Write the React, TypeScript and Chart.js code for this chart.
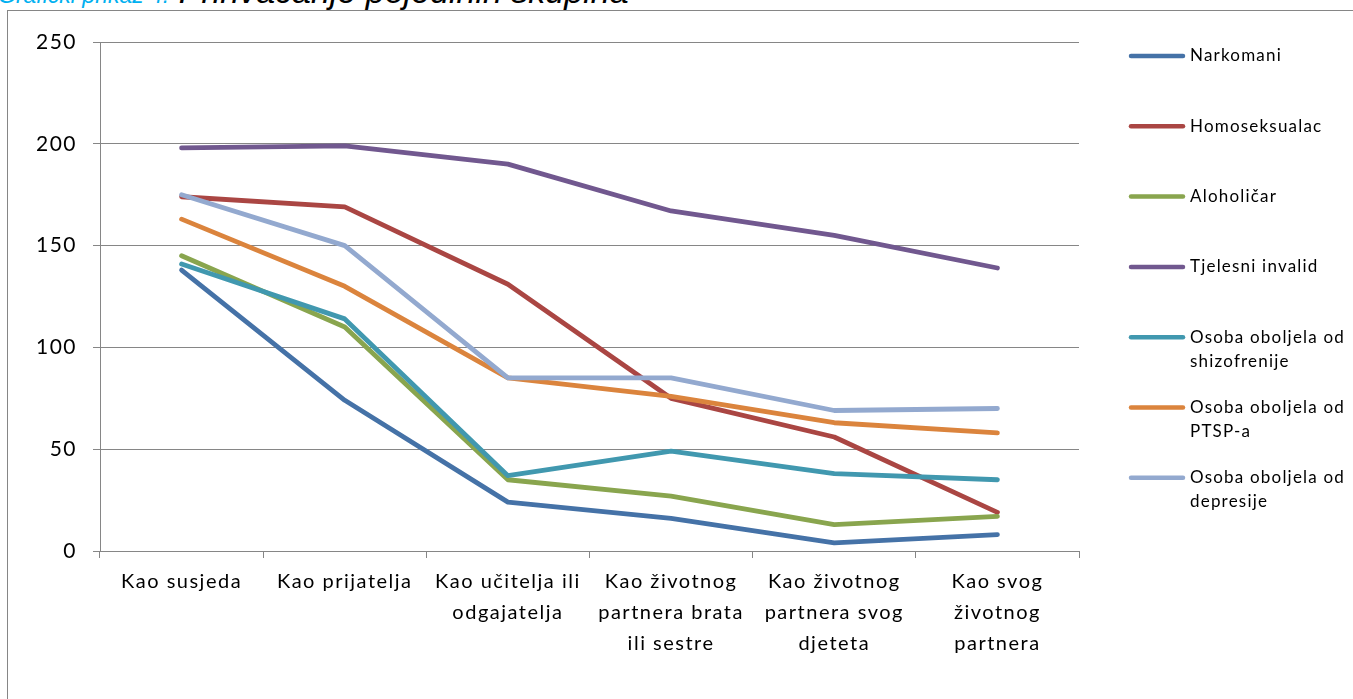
import React, { useEffect, useRef } from "react";
import { Chart, registerables } from "chart.js";

Chart.register(...registerables);

// ---------- data ----------
const categories: string[][] = [
  ["Kao susjeda"],
  ["Kao prijatelja"],
  ["Kao učitelja ili", "odgajatelja"],
  ["Kao životnog", "partnera brata", "ili sestre"],
  ["Kao životnog", "partnera svog", "djeteta"],
  ["Kao svog", "životnog", "partnera"],
];

const seriesNames = [
  "Narkomani",
  "Homoseksualac",
  "Aloholičar",
  "Tjelesni invalid",
  "Osoba oboljela od shizofrenije",
  "Osoba oboljela od PTSP-a",
  "Osoba oboljela od depresije",
];

const narkomani = [138, 74, 24, 16, 4, 8];
const homoseksualac = [174, 169, 131, 75, 56, 19];
const aloholicar = [145, 110, 35, 27, 13, 17];
const tjelesniInvalid = [198, 199, 190, 167, 155, 139];
const shizofrenija = [141, 114, 37, 49, 38, 35];
const ptsp = [163, 130, 85, 76, 63, 58];
const depresija = [175, 150, 85, 85, 69, 70];

const yMin = 0;
const yMax = 250;
const yStep = 50;

const seriesValues = [narkomani, homoseksualac, aloholicar, tjelesniInvalid, shizofrenija, ptsp, depresija];
const seriesColors = ["#4572A7", "#AA4643", "#89A54E", "#71588F", "#4198AF", "#DB843D", "#93A9CF"];

const titleNumber = "Grafički prikaz 4:";
const titleText = " Prihvaćanje pojedinih skupina";

// ---------- plugins ----------
const spacingPlugin = {
  id: "spacing",
  beforeDraw(chart: any) {
    (chart.ctx as any).letterSpacing = "1.5px";
  },
};

const legendPlugin = {
  id: "customLegend",
  afterDraw(chart: any) {
    const ctx = chart.ctx as CanvasRenderingContext2D;
    ctx.save();
    (ctx as any).letterSpacing = "1.2px";
    ctx.font = "17px Lato";
    ctx.textBaseline = "middle";
    ctx.textAlign = "left";
    const startY = 56;
    const step = 70.3;
    const lineX0 = 1131;
    const lineX1 = 1183;
    const textX = 1190;
    const maxW = 168;
    seriesNames.forEach((name, i) => {
      const y = startY + i * step;
      ctx.strokeStyle = seriesColors[i];
      ctx.lineWidth = 4.5;
      ctx.lineCap = "round";
      ctx.beginPath();
      ctx.moveTo(lineX0, y);
      ctx.lineTo(lineX1, y);
      ctx.stroke();
      const words = name.split(" ");
      const lines: string[] = [];
      let cur = "";
      words.forEach((w) => {
        const test = cur ? cur + " " + w : w;
        if (ctx.measureText(test).width > maxW && cur) {
          lines.push(cur);
          cur = w;
        } else cur = test;
      });
      if (cur) lines.push(cur);
      ctx.fillStyle = "#000";
      lines.forEach((l, j) => ctx.fillText(l, textX, y + j * 24));
    });
    ctx.restore();
  },
};

export default function App() {
  const ref = useRef<HTMLCanvasElement | null>(null);

  useEffect(() => {
    if (!ref.current) return;
    const chart = new Chart(ref.current, {
      type: "line",
      data: {
        labels: categories,
        datasets: seriesNames.map((name, i) => ({
          label: name,
          data: seriesValues[i],
          borderColor: seriesColors[i],
          backgroundColor: seriesColors[i],
          borderWidth: 4.8,
          borderCapStyle: "round",
          borderJoinStyle: "round",
          pointRadius: 0,
          tension: 0,
          fill: false,
          order: seriesNames.length - i,
        })),
      },
      options: {
        animation: false,
        responsive: false,
        maintainAspectRatio: false,
        layout: { padding: { top: 42, right: 274, bottom: 0, left: 0 } },
        plugins: {
          legend: { display: false },
          title: { display: false },
          tooltip: { enabled: false },
        },
        scales: {
          x: {
            type: "category",
            offset: true,
            grid: {
              offset: true,
              drawOnChartArea: false,
              drawTicks: true,
              tickLength: 7,
              color: "#868686",
              lineWidth: 1,
            },
            border: { display: true, color: "#868686", width: 1 },
            ticks: {
              color: "#000",
              font: { family: "Lato", size: 20, lineHeight: 1.55 },
              maxRotation: 0,
              minRotation: 0,
              autoSkip: false,
              padding: 8,
            },
            afterFit(s: any) {
              s.height = 148;
            },
          },
          y: {
            min: yMin,
            max: yMax,
            ticks: {
              stepSize: yStep,
              color: "#000",
              font: { family: "Lato", size: 21 },
              padding: 16,
            },
            grid: {
              color: "#868686",
              lineWidth: 1,
              drawTicks: true,
              tickLength: 7,
            },
            border: { display: true, color: "#868686", width: 1 },
            afterFit(s: any) {
              s.width = 100;
            },
          },
        },
      },
      plugins: [spacingPlugin, legendPlugin],
    });
    return () => chart.destroy();
  }, []);

  return (
    <div
      style={{
        position: "fixed",
        left: 0,
        top: 0,
        width: 1353,
        height: 699,
        overflow: "hidden",
        background: "#fff",
      }}
    >
      <div
        style={{
          position: "absolute",
          left: 7,
          top: 10,
          width: 1500,
          height: 900,
          border: "1px solid #868686",
          boxSizing: "border-box",
        }}
      />
      <div
        style={{
          position: "absolute",
          left: -2,
          top: -26,
          whiteSpace: "nowrap",
          fontFamily: "'Liberation Sans', Arial, sans-serif",
          fontStyle: "italic",
          fontSize: 34,
          lineHeight: "34px",
          color: "#000",
        }}
      >
        <span style={{ color: "#00B0F0", fontSize: 23 }}>{titleNumber}</span>
        <span>{titleText}</span>
      </div>
      <canvas
        ref={ref}
        width={1353}
        height={699}
        style={{ position: "absolute", left: 0, top: 0, width: 1353, height: 699 }}
      />
    </div>
  );
}
